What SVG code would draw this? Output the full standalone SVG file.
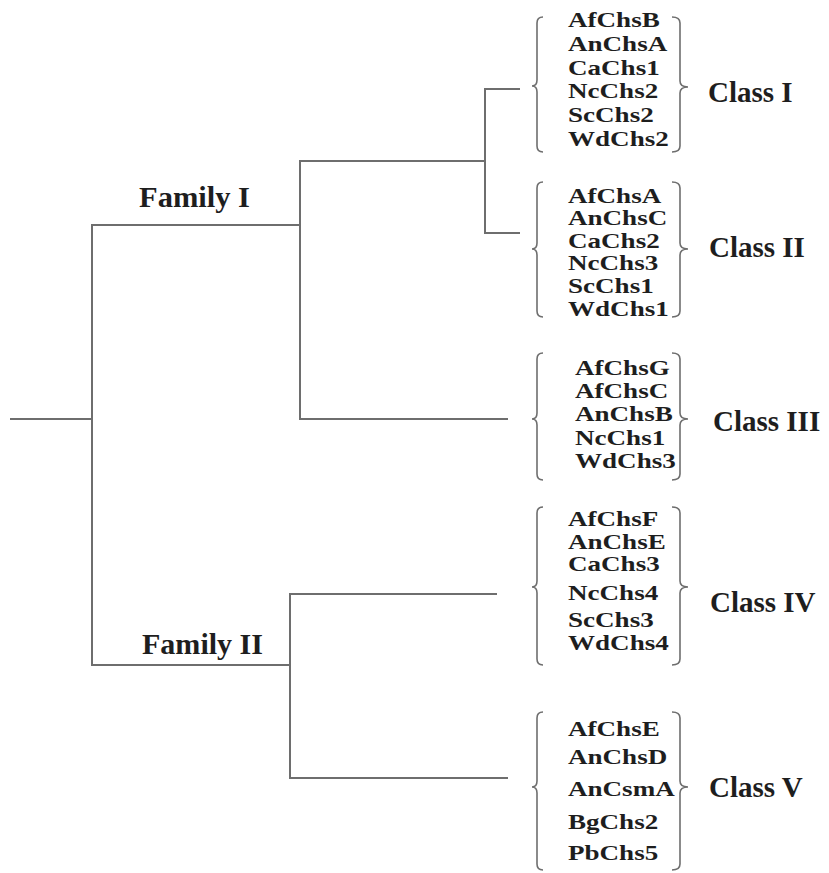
<svg xmlns="http://www.w3.org/2000/svg" width="829" height="873" viewBox="0 0 829 873">
<style>
.ln{stroke:#6e6e6e;stroke-width:2;fill:none;stroke-linecap:square}
.br{stroke:#6e6e6e;stroke-width:1.6;fill:none}
.g{font-family:"Liberation Serif","Times New Roman",serif;font-weight:bold;font-size:22px;fill:#1e1e1e}
.lab{font-family:"Liberation Serif","Times New Roman",serif;font-weight:bold;font-size:29px;fill:#1e1e1e}
</style>
<rect width="829" height="873" fill="#fff"/>
<g id="connectors">
<path class="ln" d="M11,419 H92 M92,225 V665 M92,225 H300 M300,161 V419 M300,161 H485 M485,89 V233 M485,89 H519 M485,233 H519 M300,419 H507 M92,665 H290 M290,594 V778 M290,594 H496 M290,778 H507"/>
</g>
<g id="family1"><text class="lab" x="139" y="207" textLength="111" lengthAdjust="spacingAndGlyphs">Family I</text></g>
<g id="family2"><text class="lab" x="142" y="654" textLength="121" lengthAdjust="spacingAndGlyphs">Family II</text></g>
<g id="class1">
<path class="br" d="M543,17 Q537,17 537,23 L537,80 Q537,86 532,86 Q537,86 537,92 L537,146 Q537,152 543,152"/>
<path class="br" d="M672,17 Q680,17 680,23 L680,81 Q680,87 688,87 Q680,87 680,93 L680,146 Q680,152 672,152"/>
<text class="g" transform="matrix(1.23 0 0 1 568 27)">AfChsB</text>
<text class="g" transform="matrix(1.23 0 0 1 568 51)">AnChsA</text>
<text class="g" transform="matrix(1.23 0 0 1 568 75)">CaChs1</text>
<text class="g" transform="matrix(1.23 0 0 1 568 98)">NcChs2</text>
<text class="g" transform="matrix(1.23 0 0 1 568 122)">ScChs2</text>
<text class="g" transform="matrix(1.23 0 0 1 568 146)">WdChs2</text>
<text class="lab" x="708" y="102">Class I</text>
</g>
<g id="class2">
<path class="br" d="M543,182 Q537,182 537,188 L537,243 Q537,249 532,249 Q537,249 537,255 L537,311 Q537,317 543,317"/>
<path class="br" d="M672,182 Q680,182 680,188 L680,243 Q680,249 688,249 Q680,249 680,255 L680,311 Q680,317 672,317"/>
<text class="g" transform="matrix(1.23 0 0 1 568 203)">AfChsA</text>
<text class="g" transform="matrix(1.23 0 0 1 568 225)">AnChsC</text>
<text class="g" transform="matrix(1.23 0 0 1 568 248)">CaChs2</text>
<text class="g" transform="matrix(1.23 0 0 1 568 270)">NcChs3</text>
<text class="g" transform="matrix(1.23 0 0 1 568 293)">ScChs1</text>
<text class="g" transform="matrix(1.23 0 0 1 568 316)">WdChs1</text>
<text class="lab" x="709" y="257">Class II</text>
</g>
<g id="class3">
<path class="br" d="M543,353 Q537,353 537,359 L537,413 Q537,419 532,419 Q537,419 537,425 L537,474 Q537,480 543,480"/>
<path class="br" d="M672,353 Q680,353 680,359 L680,413 Q680,419 688,419 Q680,419 680,425 L680,474 Q680,480 672,480"/>
<text class="g" transform="matrix(1.23 0 0 1 575 375)">AfChsG</text>
<text class="g" transform="matrix(1.23 0 0 1 575 398)">AfChsC</text>
<text class="g" transform="matrix(1.23 0 0 1 575 421)">AnChsB</text>
<text class="g" transform="matrix(1.23 0 0 1 575 445)">NcChs1</text>
<text class="g" transform="matrix(1.23 0 0 1 575 468)">WdChs3</text>
<text class="lab" x="713" y="431">Class III</text>
</g>
<g id="class4">
<path class="br" d="M543,507 Q537,507 537,513 L537,581 Q537,587 532,587 Q537,587 537,593 L537,659 Q537,665 543,665"/>
<path class="br" d="M672,507 Q680,507 680,513 L680,581 Q680,587 688,587 Q680,587 680,593 L680,659 Q680,665 672,665"/>
<text class="g" transform="matrix(1.23 0 0 1 568 526)">AfChsF</text>
<text class="g" transform="matrix(1.23 0 0 1 568 549)">AnChsE</text>
<text class="g" transform="matrix(1.23 0 0 1 568 571)">CaChs3</text>
<text class="g" transform="matrix(1.23 0 0 1 568 600)">NcChs4</text>
<text class="g" transform="matrix(1.23 0 0 1 568 627)">ScChs3</text>
<text class="g" transform="matrix(1.23 0 0 1 568 650)">WdChs4</text>
<text class="lab" x="710" y="612">Class IV</text>
</g>
<g id="class5">
<path class="br" d="M543,712 Q537,712 537,718 L537,781 Q537,787 532,787 Q537,787 537,793 L537,864 Q537,870 543,870"/>
<path class="br" d="M672,712 Q680,712 680,718 L680,781 Q680,787 688,787 Q680,787 680,793 L680,864 Q680,870 672,870"/>
<text class="g" transform="matrix(1.23 0 0 1 568 736)">AfChsE</text>
<text class="g" transform="matrix(1.23 0 0 1 568 764)">AnChsD</text>
<text class="g" transform="matrix(1.23 0 0 1 568 796)">AnCsmA</text>
<text class="g" transform="matrix(1.23 0 0 1 568 829)">BgChs2</text>
<text class="g" transform="matrix(1.23 0 0 1 568 860)">PbChs5</text>
<text class="lab" x="709" y="797">Class V</text>
</g>
</svg>
